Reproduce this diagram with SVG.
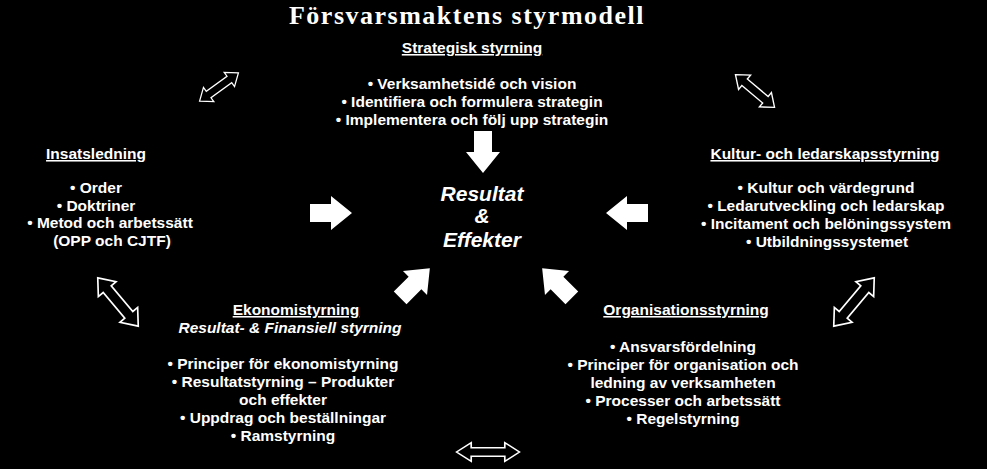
<svg xmlns="http://www.w3.org/2000/svg" width="987" height="469" viewBox="0 0 987 469">
<style>
text{font-family:"Liberation Sans",Arial,sans-serif;font-weight:bold;fill:#fff;text-anchor:middle;font-size:15.5px}
.h{text-decoration:underline}
.i{font-style:italic}
.c{font-style:italic;font-size:21px}
.t{font-family:"Liberation Serif",serif;font-size:26px;letter-spacing:1.5px}
.dbl{fill:none;stroke:#fff;stroke-width:1.6;stroke-linejoin:miter}
.blk{fill:#fff}
</style>
<defs>
<path id="d" d="M-30,0 L-16,-11 L-16,-5 L16,-5 L16,-11 L30,0 L16,11 L16,5 L-16,5 L-16,11 Z"/>
<path id="b" d="M-21,-9 L0,-9 L0,-17 L21,0 L0,17 L0,9 L-21,9 Z"/>
</defs>
<rect width="987" height="469" fill="#000"/>
<text class="t" x="467" y="24">Försvarsmaktens styrmodell</text>
<g id="center"><text class="c" x="482" y="201">Resultat</text><text class="c" x="482" y="223">&amp;</text><text class="c" x="482" y="247">Effekter</text></g>
<g id="strategisk"><text class="h" x="472" y="53">Strategisk styrning</text>
<text x="472" y="89">• Verksamhetsidé och vision</text><text x="472" y="107">• Identifiera och formulera strategin</text><text x="472" y="125">• Implementera och följ upp strategin</text></g>
<g id="insats"><text class="h" x="96" y="159">Insatsledning</text>
<text x="96" y="193">• Order</text><text x="96" y="211">• Doktriner</text><text x="110" y="228">• Metod och arbetssätt</text><text x="112" y="246">(OPP och CJTF)</text></g>
<g id="kultur"><text class="h" x="825" y="159">Kultur- och ledarskapsstyrning</text>
<text x="826" y="193">• Kultur och värdegrund</text><text x="826" y="211">• Ledarutveckling och ledarskap</text><text x="826" y="229">• Incitament och belöningssystem</text><text x="827" y="247">• Utbildningssystemet</text></g>
<g id="ekonomi"><text class="h" x="296" y="315">Ekonomistyrning</text><text class="i" x="290" y="333">Resultat- &amp; Finansiell styrning</text>
<text x="283" y="369">• Principer för ekonomistyrning</text><text x="283" y="387">• Resultatstyrning – Produkter</text><text x="283" y="405">och effekter</text><text x="283" y="423">• Uppdrag och beställningar</text><text x="283" y="441">• Ramstyrning</text></g>
<g id="organisation"><text class="h" x="686" y="315">Organisationsstyrning</text>
<text x="683" y="352">• Ansvarsfördelning</text><text x="683" y="370">• Principer för organisation och</text><text x="683" y="388">ledning av verksamheten</text><text x="683" y="406">• Processer och arbetssätt</text><text x="683" y="424">• Regelstyrning</text></g>
<g id="connectors">
<use href="#b" class="blk" transform="translate(483,152) rotate(90)"/>
<use href="#b" class="blk" transform="translate(331,213)"/>
<use href="#b" class="blk" transform="translate(627,213) rotate(180)"/>
<use href="#b" class="blk" transform="translate(415,283) rotate(-45)"/>
<use href="#b" class="blk" transform="translate(557,283) rotate(-135)"/>
<use href="#d" class="dbl" transform="translate(219,87) rotate(-36) scale(0.8)"/>
<use href="#d" class="dbl" transform="translate(755,91) rotate(40) scale(0.85)"/>
<use href="#d" class="dbl" transform="translate(118,302) rotate(50) scale(1.05)"/>
<use href="#d" class="dbl" transform="translate(854,302) rotate(-50) scale(1.05)"/>
<use href="#d" class="dbl" transform="translate(488,452) scale(1.05,0.85)"/>
</g>
</svg>
